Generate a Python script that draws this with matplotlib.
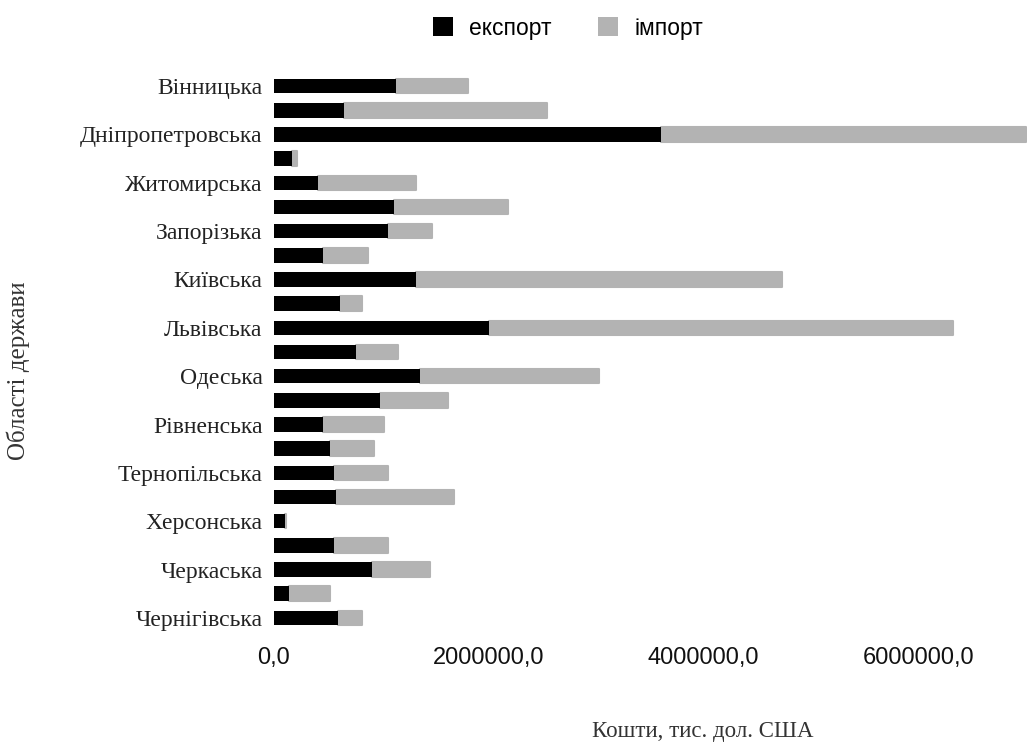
import matplotlib
matplotlib.use("Agg")
import matplotlib.pyplot as plt
from matplotlib.patches import Patch

# Області (Луганська відсутня у джерелі)
regions = ["Вінницька", "Волинська", "Дніпропетровська", "Донецька", "Житомирська",
           "Закарпатська", "Запорізька", "Івано-Франківська", "Київська", "Кіровоградська",
           "Львівська", "Миколаївська", "Одеська", "Полтавська", "Рівненська", "Сумська",
           "Тернопільська", "Харківська", "Херсонська", "Хмельницька", "Черкаська",
           "Чернівецька", "Чернігівська"]

# тис. дол. США, оцінено з рисунка
export_vals = [1140000, 656000, 3605000, 172000, 414000, 1121000, 1065000, 460000,
               1326000, 619000, 2005000, 767000, 1363000, 991000, 460000, 526000,
               563000, 581000, 107000, 563000, 916000, 144000, 600000]
total_vals = [1810000, 2544000, 7000000, 219000, 1326000, 2181000, 1474000, 879000,
              4730000, 823000, 6320000, 1158000, 3028000, 1623000, 1028000, 935000,
              1065000, 1679000, 116000, 1065000, 1456000, 526000, 823000]
import_vals = [t - e for t, e in zip(total_vals, export_vals)]

xticks = [0, 2000000, 4000000, 6000000]
xtick_labels = ["0,0", "2000000,0", "4000000,0", "6000000,0"]

W, H = 1027, 745
fig = plt.figure(figsize=(W / 100, H / 100), dpi=100)
ax = fig.add_axes([273.5 / W, 1 - 630 / H, 1 - 273.5 / W, 556 / H])

pos = list(range(len(regions)))
ax.barh(pos, import_vals, left=export_vals, height=0.6, color="#b3b3b3",
        edgecolor="#b3b3b3", linewidth=1.5, joinstyle="round", zorder=2)
ax.barh(pos, export_vals, height=0.6, color="#000000", linewidth=0, zorder=3)

ax.set_ylim(len(regions) - 0.5, -0.5)
ax.set_xlim(0, 7010000)

ax.set_yticks(pos)
ax.set_yticklabels([r if i % 2 == 0 else "" for i, r in enumerate(regions)],
                   fontfamily="Liberation Serif", fontsize=17, color="#222222")
ax.set_xticks(xticks)
ax.set_xticklabels(xtick_labels, fontfamily="Liberation Sans", fontsize=17, color="#111111")
ax.tick_params(axis="y", length=0, pad=8)
ax.tick_params(axis="x", length=0, pad=12)

for s in ax.spines.values():
    s.set_visible(False)

fig.text(18 / W, 1 - 371 / H, "Області держави", rotation=90, ha="center", va="center",
         fontfamily="Liberation Serif", fontsize=18, color="#333333")
fig.text(703 / W, 1 - 731 / H, "Кошти, тис. дол. США", ha="center", va="center",
         fontfamily="Liberation Serif", fontsize=16.5, color="#333333")

handles = [Patch(facecolor="#000000", label="експорт"),
           Patch(facecolor="#b3b3b3", label="імпорт")]
leg = fig.legend(handles=handles, loc="center", bbox_to_anchor=(568 / W, 1 - 28 / H),
                 ncol=2, frameon=False, handlelength=0.9, handleheight=0.9,
                 handletextpad=0.7, columnspacing=2.0,
                 prop={"family": "Liberation Sans", "size": 16.5})

fig.savefig("out.png", dpi=100)
